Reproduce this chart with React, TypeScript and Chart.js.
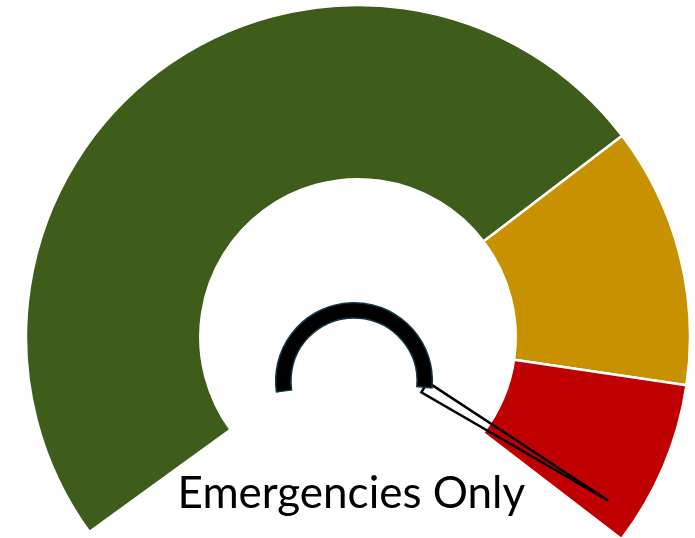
import React, { useEffect, useRef } from "react";
import { Chart, registerables } from "chart.js";

Chart.register(...registerables);

const segmentLabels = ["Normal", "Caution", "Emergencies Only"];
const segmentValues = [70.5, 18, 11.5];
const segmentColors = ["#3E5D1B", "#C79100", "#C00000"];
const needleValue = 98.3;
const statusLabel = "Emergencies Only";

const ROTATION = 234;
const CIRCUMFERENCE = 253.5;

export default function App() {
  const ref = useRef<HTMLCanvasElement>(null);

  useEffect(() => {
    const canvas = ref.current;
    if (!canvas) return;

    const gaugePlugin = {
      id: "gaugeDecor",
      afterDatasetsDraw(chart: any) {
        const meta = chart.getDatasetMeta(0);
        const arc: any = meta.data[0];
        if (!arc) return;
        const { x, y, outerRadius: R } = arc.getProps(["x", "y", "outerRadius"], true);
        const ctx: CanvasRenderingContext2D = chart.ctx;
        const total = segmentValues.reduce((a, b) => a + b, 0);
        const start = ((ROTATION - 90) * Math.PI) / 180;
        const sweep = (CIRCUMFERENCE * Math.PI) / 180;
        const deg = (d: number) => (d * Math.PI) / 180;

        // hub geometry
        const hx = x - 0.012 * R;
        const hy = y + 0.133 * R;
        const ro = 0.236 * R;
        const ri = 0.19 * R;
        const hubStart = deg(172);
        const hubEnd = deg(365);

        // needle
        const na = start + (sweep * needleValue) / total;
        const tipX = x + 0.9 * R * Math.cos(na);
        const tipY = y + 0.9 * R * Math.sin(na);
        const bm = (ri + ro) / 2;
        const bx = hx + bm * Math.cos(hubEnd);
        const by = hy + bm * Math.sin(hubEnd);
        const dir = Math.atan2(tipY - by, tipX - bx);
        const hw = 6;
        const b1x = bx - Math.sin(dir) * hw;
        const b1y = by + Math.cos(dir) * hw;
        const b2x = bx + Math.sin(dir) * hw;
        const b2y = by - Math.cos(dir) * hw;

        ctx.save();
        ctx.beginPath();
        ctx.moveTo(b2x, b2y);
        ctx.lineTo(tipX, tipY);
        ctx.lineTo(b1x, b1y);
        ctx.closePath();
        ctx.lineWidth = 2.5;
        ctx.lineJoin = "miter";
        ctx.strokeStyle = "#000000";
        ctx.stroke();

        // hub arc
        ctx.beginPath();
        ctx.arc(hx, hy, ro, hubStart, hubEnd, false);
        ctx.arc(hx, hy, ri, hubEnd, hubStart, true);
        ctx.closePath();
        ctx.fillStyle = "#000000";
        ctx.fill();
        ctx.lineWidth = 1.5;
        ctx.strokeStyle = "#163445";
        ctx.stroke();

        // status label
        ctx.fillStyle = "#000000";
        ctx.font = "44px Lato, 'Open Sans', sans-serif";
        ctx.textAlign = "center";
        ctx.textBaseline = "alphabetic";
        ctx.fillText(statusLabel, x - 0.02 * R, y + 0.515 * R);
        ctx.restore();
      },
    };

    const chart = new Chart(canvas, {
      type: "doughnut",
      data: {
        labels: segmentLabels,
        datasets: [
          {
            data: segmentValues,
            backgroundColor: segmentColors,
            borderColor: "#ffffff",
            borderWidth: 2.5,
            hoverOffset: 0,
          },
        ],
      },
      options: {
        responsive: false,
        animation: false,
        rotation: ROTATION,
        circumference: CIRCUMFERENCE,
        cutout: "47.5%",
        radius: 332,
        layout: { padding: { left: 21, top: 6, right: 0, bottom: 0 } },
        plugins: {
          legend: { display: false },
          tooltip: { enabled: false },
          title: { display: false },
        },
      },
      plugins: [gaugePlugin],
    });

    return () => chart.destroy();
  }, []);

  return (
    <div style={{ position: "fixed", left: 0, top: 0, width: 695, height: 538, background: "#ffffff" }}>
      <canvas ref={ref} width={695} height={538} style={{ width: 695, height: 538 }} />
    </div>
  );
}
